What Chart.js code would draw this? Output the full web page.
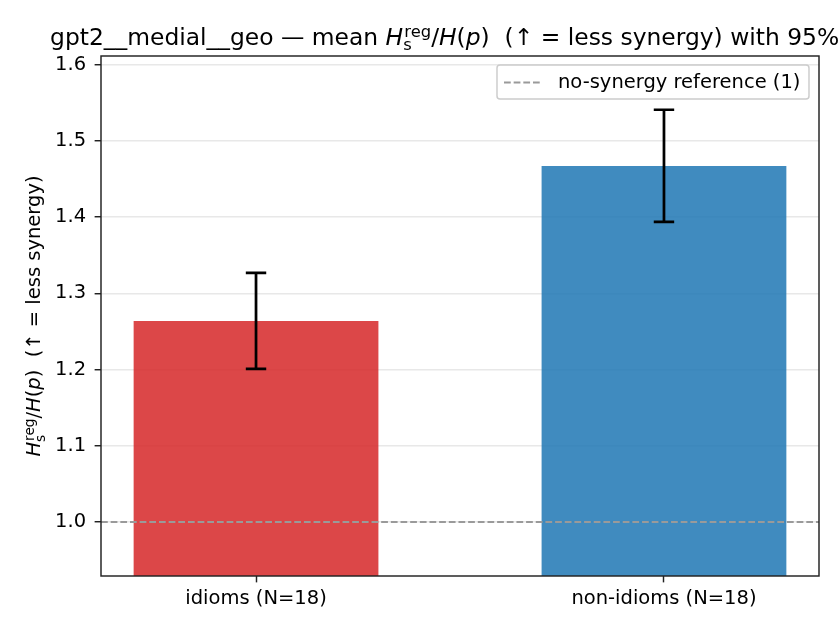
<!DOCTYPE html>
<html>
<head>
<meta charset="utf-8">
<script src="https://cdn.jsdelivr.net/npm/chart.js@4.4.1/dist/chart.umd.min.js"></script>
<style>
  html, body { margin: 0; padding: 0; background: #fff; }
  canvas { display: block; }
</style>
</head>
<body>
<canvas id="chart" width="840" height="630"></canvas>
<script>
// Dados do gráfico
const categorias = ['idioms (N=18)', 'non-idioms (N=18)'];
const posicoes = [0, 1];
const medias = [1.2638, 1.4670];
const ciBaixo = [1.2008, 1.3937];
const ciAlto = [1.3268, 1.5407];
const referencia = 1.0;
const yTicks = [1.0, 1.1, 1.2, 1.3, 1.4, 1.5, 1.6];

const corBarras = ['rgba(214, 39, 40, 0.85)', 'rgba(31, 119, 180, 0.85)'];
const FONTE = '"DejaVu Sans"';
const PT = 131.25 / 72;  // px por ponto (linhas)
const FS = 1.95;         // px por ponto (texto)

Chart.defaults.font.family = 'DejaVu Sans';
Chart.defaults.color = '#000';

// Texto com H itálico, subscrito e sobrescrito (imitando o mathtext)
function desenhaRico(ctx, partes, size, x, y, align) {
    const fonte = (it, s) => (it ? 'italic ' : '') + s + 'px ' + FONTE;
    let total = 0;
    const larguras = partes.map(p => {
        let w;
        if (p.sub !== undefined) {
            ctx.font = fonte(false, size * 0.7);
            w = Math.max(ctx.measureText(p.sub).width, ctx.measureText(p.sup).width) + size * 0.05;
        } else {
            ctx.font = fonte(p.it, size);
            w = ctx.measureText(p.t).width;
        }
        total += w;
        return w;
    });
    let cx = align === 'center' ? x - total / 2 : x;
    ctx.textAlign = 'left';
    ctx.textBaseline = 'alphabetic';
    partes.forEach((p, i) => {
        if (p.sub !== undefined) {
            ctx.font = fonte(false, size * 0.7);
            ctx.fillText(p.sup, cx + size * 0.05, y - size * 0.32);
            ctx.fillText(p.sub, cx, y + size * 0.25);
        } else {
            ctx.font = fonte(p.it, size);
            ctx.fillText(p.t, cx, y);
        }
        cx += larguras[i];
    });
}

const razao = [
    { t: 'H', it: true },
    { sub: 's', sup: 'reg' },
    { t: '/', it: false },
    { t: 'H', it: true },
    { t: '(', it: false },
    { t: 'p', it: true },
    { t: ')', it: false }
];
const partesTitulo = [{ t: 'gpt2__medial__geo \u2014 mean ', it: false }]
    .concat(razao, [{ t: '  (\u2191 = less synergy) with 95% CI', it: false }]);
const partesEixoY = razao.concat([{ t: '  (\u2191 = less synergy)', it: false }]);

// Plugin: moldura, barras de erro, título, rótulo do eixo y e legenda
const extras = {
    id: 'extras',
    afterDatasetsDraw(chart) {
        const ctx = chart.ctx;
        const x = chart.scales.x, y = chart.scales.y;
        ctx.save();
        ctx.strokeStyle = '#000';
        ctx.lineWidth = 1.5 * PT;
        const cap = 5.6 * PT;
        posicoes.forEach((p, i) => {
            const px = x.getPixelForValue(p);
            const y1 = y.getPixelForValue(ciBaixo[i]);
            const y2 = y.getPixelForValue(ciAlto[i]);
            ctx.beginPath();
            ctx.moveTo(px, y1); ctx.lineTo(px, y2);
            ctx.moveTo(px - cap, y1); ctx.lineTo(px + cap, y1);
            ctx.moveTo(px - cap, y2); ctx.lineTo(px + cap, y2);
            ctx.stroke();
        });
        ctx.restore();
    },
    afterDraw(chart) {
        const ctx = chart.ctx;
        const a = chart.chartArea;
        ctx.save();

        // moldura (4 spines)
        ctx.strokeStyle = '#222';
        ctx.lineWidth = 0.8 * PT;
        ctx.strokeRect(a.left, a.top, a.right - a.left, a.bottom - a.top);

        // legenda
        const lx = 497, ly = 65, lw = 312, lh = 34;
        ctx.fillStyle = 'rgba(255,255,255,0.8)';
        ctx.strokeStyle = '#cccccc';
        ctx.lineWidth = 0.8 * PT;
        ctx.beginPath();
        ctx.roundRect(lx, ly, lw, lh, 3);
        ctx.fill();
        ctx.stroke();
        ctx.strokeStyle = '#9a9a9a';
        ctx.lineWidth = 1 * PT;
        ctx.setLineDash([3.7 * PT, 1.6 * PT]);
        ctx.beginPath();
        ctx.moveTo(lx + 7, ly + 17.5);
        ctx.lineTo(lx + 44, ly + 17.5);
        ctx.stroke();
        ctx.setLineDash([]);
        ctx.fillStyle = '#000';
        ctx.font = (10 * FS) + 'px ' + FONTE;
        ctx.textAlign = 'left';
        ctx.textBaseline = 'middle';
        ctx.fillText('no-synergy reference (1)', lx + 61, ly + 18);

        // título
        ctx.fillStyle = '#000';
        desenhaRico(ctx, partesTitulo, 12 * FS, (a.left + a.right) / 2, a.top - 6 * PT - 0.5, 'center');

        // rótulo do eixo y
        ctx.translate(40, (a.top + a.bottom) / 2);
        ctx.rotate(-Math.PI / 2);
        desenhaRico(ctx, partesEixoY, 10 * FS, 0, 0, 'center');
        ctx.restore();
    }
};

const ctx = document.getElementById('chart').getContext('2d');
new Chart(ctx, {
    type: 'bar',
    data: {
        datasets: [
            {
                type: 'line',
                label: 'no-synergy reference (1)',
                data: [{ x: -0.38, y: referencia }, { x: 1.38, y: referencia }],
                borderColor: '#9a9a9a',
                borderWidth: 1 * PT,
                borderDash: [3.7 * PT, 1.6 * PT],
                pointRadius: 0,
                fill: false
            },
            {
                label: 'media',
                data: posicoes.map((p, i) => ({ x: p, y: medias[i] })),
                backgroundColor: corBarras,
                borderWidth: 0,
                categoryPercentage: 1.0,
                barPercentage: 0.6
            }
        ]
    },
    plugins: [extras],
    options: {
        responsive: false,
        animation: false,
        devicePixelRatio: 1,
        layout: { padding: { top: 56, right: 21, bottom: 0, left: 0 } },
        plugins: {
            legend: { display: false },
            title: { display: false },
            tooltip: { enabled: false }
        },
        scales: {
            x: {
                type: 'linear',
                min: -0.38,
                max: 1.38,
                offset: false,
                afterFit: s => { s.height = 54; },
                afterBuildTicks: s => { s.ticks = posicoes.map(v => ({ value: v })); },
                border: { display: false },
                grid: {
                    offset: false,
                    drawOnChartArea: false,
                    drawTicks: true,
                    tickLength: 3.5 * PT,
                    tickColor: '#222',
                    tickWidth: 0.8 * PT
                },
                ticks: {
                    padding: 5,
                    maxRotation: 0,
                    autoSkip: false,
                    font: { size: 10 * FS },
                    color: '#000',
                    callback: (v, i) => categorias[i]
                }
            },
            y: {
                min: 0.9292,
                max: 1.6112,
                afterFit: s => { s.width = 101; },
                afterBuildTicks: s => { s.ticks = yTicks.map(v => ({ value: v })); },
                border: { display: false },
                grid: {
                    color: '#e8e8e8',
                    lineWidth: 0.8 * PT,
                    drawTicks: true,
                    tickLength: 3.5 * PT,
                    tickColor: '#222',
                    tickWidth: 0.8 * PT
                },
                ticks: {
                    padding: 8.5,
                    font: { size: 10 * FS },
                    color: '#000',
                    callback: v => v.toFixed(1)
                }
            }
        }
    }
});
</script>
</body>
</html>
